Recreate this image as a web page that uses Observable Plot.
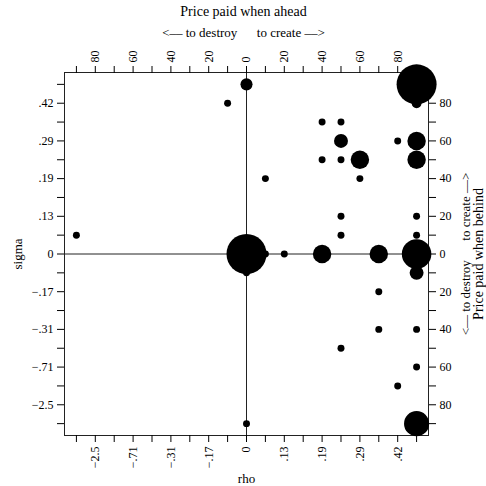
<!DOCTYPE html>
<html>
<head>
<meta charset="utf-8">
<script src="https://cdn.jsdelivr.net/npm/d3@7"></script>
<script src="https://cdn.jsdelivr.net/npm/@observablehq/plot@0.6"></script>
<style>
  html, body { margin: 0; padding: 0; background: #fff; }
  svg { display: block; }
</style>
</head>
<body>
<div id="chart"></div>
<script>
// Grid positions (bin index) of each bubble: rho bin (x), sigma bin (y), count (n)
const rhoBin   = [0, -1, 4, 5, 5, 8, 9, 4, 5, 6, 9, 1, 6, 5, 9, 5, 9, -9, 9, 9, 0, 1, 0, 2, 4, 7, 9, 9, 7, 7, 9, 5, 9, 8, 9, 0];
const sigmaBin = [9,  8, 7, 7, 6, 6, 6, 5, 5, 5, 5, 4, 4, 2, 2, 1, 1,  1, 9, 8, 0, 0, -1, 0, 0, 0, 0, -1, -2, -4, -4, -5, -6, -7, -9, -9];
const counts   = [3,  1, 1, 1, 4, 1, 7, 1, 1, 7, 7, 1, 1, 1, 1, 1, 1,  1, 33, 2, 33, 1, 1, 1, 7, 7, 18, 4, 1, 1, 1, 1, 1, 1, 13, 1];

// Axis tick positions and labels
const tickPos      = [-9, -8, -7, -6, -5, -4, -3, -2, -1, 0, 1, 2, 3, 4, 5, 6, 7, 8, 9];
const labelPos     = [-8, -6, -4, -2, 0, 2, 4, 6, 8];
const rhoLabels    = ["\u22122.5", "\u2212.71", "\u2212.31", "\u2212.17", "0", ".13", ".19", ".29", ".42"];
const sigmaLabels  = ["\u22122.5", "\u2212.71", "\u2212.31", "\u2212.17", "0", ".13", ".19", ".29", ".42"];
const aheadLabels  = ["80", "60", "40", "20", "0", "20", "40", "60", "80"];
const behindLabels = ["80", "60", "40", "20", "0", "20", "40", "60", "80"];

const data = rhoBin.map((x, i) => ({x, y: sigmaBin[i], n: counts[i]}));
const fmt = labels => d => { const i = labelPos.indexOf(d); return i >= 0 ? labels[i] : ""; };

const sp = "\u00a0";
const arrows = "<\u2013\u2013 to destroy" + sp.repeat(6) + "to create \u2013\u2013>";

const chart = Plot.plot({
  width: 486,
  height: 486,
  marginLeft: 64,
  marginRight: 58,
  marginTop: 72,
  marginBottom: 51,
  x: {domain: [-9.63, 9.63]},
  y: {domain: [-9.63, 9.63]},
  r: {type: "sqrt", domain: [0, 33], range: [0, 20]},
  style: {fontFamily: "Liberation Serif, Times New Roman, serif", fontSize: "12px", background: "#fff", color: "#000"},
  marks: [
    Plot.frame({stroke: "#222"}),
    Plot.ruleX([0], {stroke: "#222"}),
    Plot.ruleY([0], {stroke: "#222"}),
    Plot.dot(data, {x: "x", y: "y", r: "n", fill: "black"}),
    Plot.axisX(tickPos, {anchor: "bottom", tickSize: 7, tickPadding: 4, tickRotate: -90, tickFormat: fmt(rhoLabels), label: null}),
    Plot.axisX(tickPos, {anchor: "top", tickSize: 7, tickPadding: 3, tickRotate: -90, tickFormat: fmt(aheadLabels), label: null}),
    Plot.axisY(tickPos, {anchor: "left", tickSize: 7, tickPadding: 4, tickFormat: fmt(sigmaLabels), label: null}),
    Plot.axisY(tickPos, {anchor: "right", tickSize: 7, tickPadding: 4, tickFormat: fmt(behindLabels), label: null}),
    Plot.text(["rho"], {frameAnchor: "bottom", lineAnchor: "middle", textAnchor: "middle", dy: 43, fontSize: 13}),
    Plot.text(["sigma"], {frameAnchor: "left", lineAnchor: "middle", textAnchor: "middle", dx: -47, rotate: -90, fontSize: 13}),
    Plot.text(["Price paid when ahead"], {frameAnchor: "top", lineAnchor: "middle", textAnchor: "middle", dy: -60.5, dx: -3, fontSize: 14}),
    Plot.text([arrows], {frameAnchor: "top", lineAnchor: "middle", textAnchor: "middle", dy: -40, dx: -3, fontSize: 13}),
    Plot.text([arrows], {frameAnchor: "right", lineAnchor: "middle", textAnchor: "middle", dx: 37, rotate: -90, fontSize: 13}),
    Plot.text(["Price paid when behind"], {frameAnchor: "right", lineAnchor: "middle", textAnchor: "middle", dx: 50.5, rotate: -90, fontSize: 14})
  ]
});
document.getElementById("chart").appendChild(chart);
</script>
</body>
</html>
